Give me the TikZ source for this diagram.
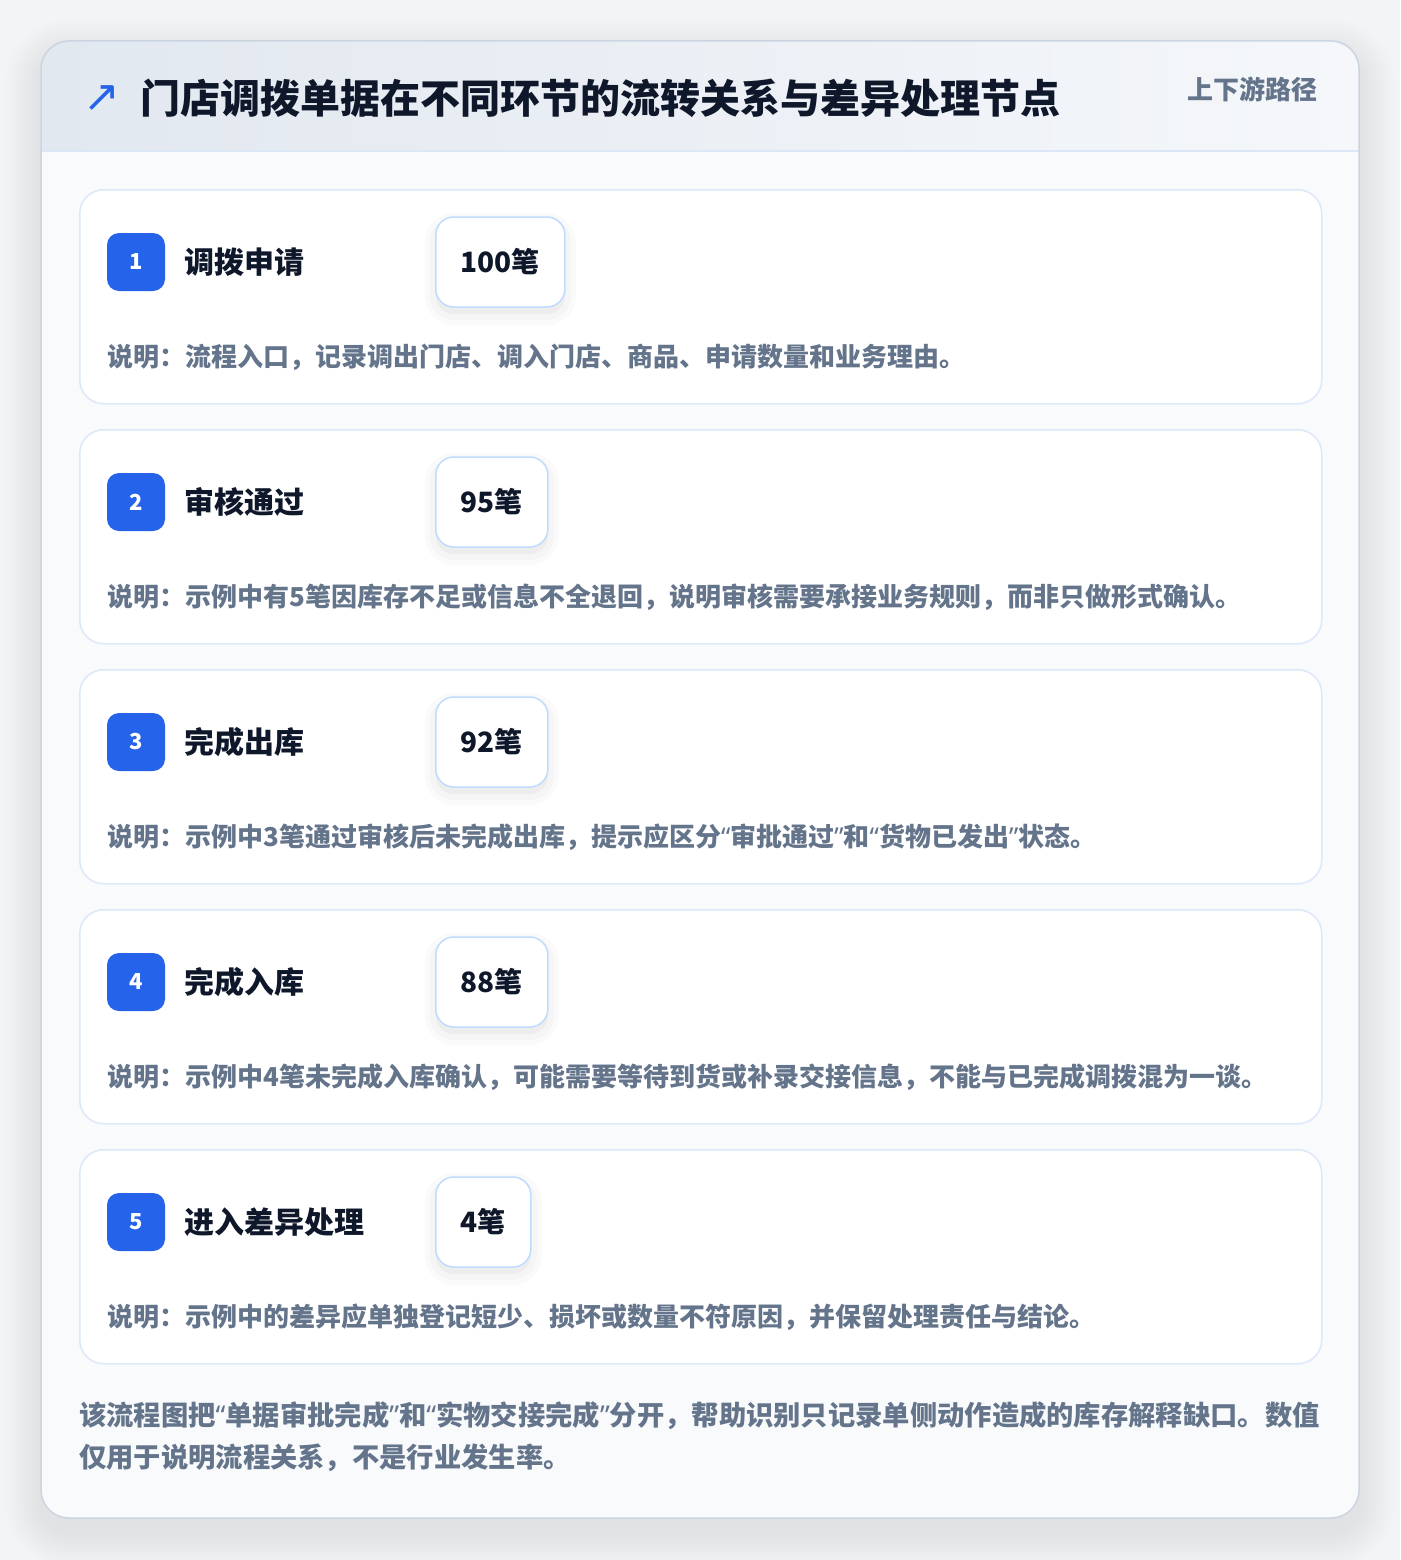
\documentclass[tikz,border=0pt]{standalone}
\usepackage{fontspec}
\setmainfont{Noto Sans CJK SC}
\newfontfamily\symfont{DejaVu Sans}
\newfontfamily\quotefont{Noto Sans}
\newcommand\openq{{\quotefont “}}
\newcommand\closeq{{\quotefont ”}}
\usepackage{tikz}
\usetikzlibrary{positioning}

\definecolor{pagebg}{HTML}{F3F4F6}
\definecolor{bodyfill}{HTML}{F8FAFC}
\definecolor{frameline}{HTML}{CBD5E1}
\definecolor{headl}{HTML}{E2E8F0}
\definecolor{headr}{HTML}{F5F7FA}
\definecolor{headline}{HTML}{DBE7F6}
\definecolor{cardline}{HTML}{DCE8F8}
\definecolor{countline}{HTML}{BFDBFE}
\definecolor{badgeblue}{HTML}{2563EB}
\definecolor{ink}{HTML}{0F172A}
\definecolor{muted}{HTML}{64748B}

\tikzset{
  card/.style={draw=cardline, line width=1.5pt, fill=white, rounded corners=24pt,
    minimum width=1242pt, minimum height=214pt, anchor=north west},
  badge/.style={fill=badgeblue, rounded corners=12pt, minimum size=58pt, inner sep=0pt,
    text=white, font=\bfseries\fontsize{22}{22}\selectfont},
  stepname/.style={anchor=west, inner sep=0pt, text=ink, font=\bfseries\fontsize{30}{30}\selectfont},
  countbox/.style={anchor=west, draw=countline, line width=1.5pt, fill=white, rounded corners=18pt,
    minimum height=90pt, inner xsep=25pt, text=ink, font=\bfseries\fontsize{28}{28}\selectfont,
    preaction={draw=black, draw opacity=0.02, line width=22pt, transform canvas={yshift=-7pt}},
    preaction={draw=black, draw opacity=0.02, line width=12pt, transform canvas={yshift=-7pt}},
    preaction={fill=black, fill opacity=0.03, transform canvas={yshift=-7pt}}},
  note/.style={anchor=west, inner sep=0pt, text=muted, font=\bfseries\fontsize{26}{26}\selectfont},
}

\begin{document}
\begin{tikzpicture}[x=1pt, y=1pt]
  \useasboundingbox[fill=pagebg] (0,0) rectangle (1400,-1560);

  % soft shadow, outer frame and header band
  \foreach \s in {2,4,...,36}
    \fill[black, opacity=0.005, rounded corners=28+\s] (41-\s,-55+\s) rectangle (1359+\s,-1532-\s);
  \path[fill=bodyfill, rounded corners=28pt] (41,-41) rectangle (1359,-1518);
  \begin{scope}
    \clip[rounded corners=28pt] (41,-41) rectangle (1359,-1518);
    \shade[left color=headl, right color=headr] (41,-41) rectangle (1359,-151);
  \end{scope}
  \draw[headline, line width=1.5pt] (41,-151) -- (1359,-151);
  \draw[frameline, line width=1.5pt, rounded corners=28pt] (41,-41) rectangle (1359,-1518);

  \node[text=badgeblue, font=\symfont\fontsize{44}{44}\selectfont, inner sep=0pt] (icon) at (102,-99) {↗};
  \node[anchor=west, inner sep=0pt, text=ink, font=\bfseries\fontsize{40}{40}\selectfont] (title) at (140,-98)
    {门店调拨单据在不同环节的流转关系与差异处理节点};
  \node[anchor=east, inner sep=0pt, text=muted, font=\bfseries\fontsize{26}{26}\selectfont] (tag) at (1318,-89)
    {上下游路径};

  % step 1
  \node[card] (card1) at (79,-189) {};
  \node[badge] (num1) at (136,-262) {1};
  \node[stepname] (name1) at (184,-262) {调拨申请};
  \node[countbox] (cnt1) at (435,-262) {100笔};
  \node[note] (note1) at (107,-357) {说明：流程入口，记录调出门店、调入门店、商品、申请数量和业务理由。};

  % step 2
  \node[card] (card2) at (79,-429) {};
  \node[badge] (num2) at (136,-502) {2};
  \node[stepname] (name2) at (184,-502) {审核通过};
  \node[countbox] (cnt2) at (435,-502) {95笔};
  \node[note] (note2) at (107,-597) {说明：示例中有5笔因库存不足或信息不全退回，说明审核需要承接业务规则，而非只做形式确认。};

  % step 3
  \node[card] (card3) at (79,-669) {};
  \node[badge] (num3) at (136,-742) {3};
  \node[stepname] (name3) at (184,-742) {完成出库};
  \node[countbox] (cnt3) at (435,-742) {92笔};
  \node[note] (note3) at (107,-837) {说明：示例中3笔通过审核后未完成出库，提示应区分\openq 审批通过\closeq 和\openq 货物已发出\closeq 状态。};

  % step 4
  \node[card] (card4) at (79,-909) {};
  \node[badge] (num4) at (136,-982) {4};
  \node[stepname] (name4) at (184,-982) {完成入库};
  \node[countbox] (cnt4) at (435,-982) {88笔};
  \node[note] (note4) at (107,-1077) {说明：示例中4笔未完成入库确认，可能需要等待到货或补录交接信息，不能与已完成调拨混为一谈。};

  % step 5
  \node[card] (card5) at (79,-1149) {};
  \node[badge] (num5) at (136,-1222) {5};
  \node[stepname] (name5) at (184,-1222) {进入差异处理};
  \node[countbox] (cnt5) at (435,-1222) {4笔};
  \node[note] (note5) at (107,-1317) {说明：示例中的差异应单独登记短少、损坏或数量不符原因，并保留处理责任与结论。};

  \node[anchor=north west, inner sep=0pt, align=left, text=muted,
    font=\bfseries\fontsize{27.3}{42}\selectfont] (footnote) at (79,-1401)
    {该流程图把\openq 单据审批完成\closeq 和\openq 实物交接完成\closeq 分开，帮助识别只记录单侧动作造成的库存解释缺口。数值\\
     仅用于说明流程关系，不是行业发生率。};
\end{tikzpicture}
\end{document}
